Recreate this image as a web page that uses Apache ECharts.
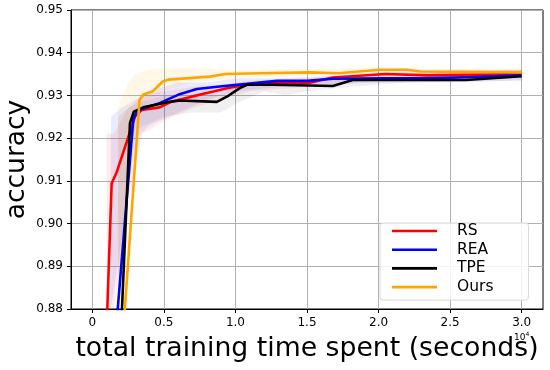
<!DOCTYPE html>
<html><head><meta charset="utf-8">
<script src="https://cdn.jsdelivr.net/npm/echarts@6/dist/echarts.min.js"></script>
<style>html,body{margin:0;padding:0;background:#fff}#c{width:550px;height:370px}</style>
</head><body><div id="c"></div>
<script>
// ---- tick labels ----
const xTicks = [0, 0.5, 1.0, 1.5, 2.0, 2.5, 3.0];
const xTickLabels = ['0', '0.5', '1.0', '1.5', '2.0', '2.5', '3.0'];
const yTicks = [0.88, 0.89, 0.90, 0.91, 0.92, 0.93, 0.94, 0.95];

// ---- series (x in units of 10^4 seconds) ----
const seriesNames = ['RS', 'REA', 'TPE', 'Ours'];
const xRS = [0.09, 0.11, 0.135, 0.17, 0.30, 0.345, 0.47, 0.55, 0.68, 0.845, 0.94, 1.08, 1.31, 1.52, 1.68, 2.05, 2.34, 3.0];
const yRS = [0.865, 0.8852, 0.9094, 0.912, 0.9252, 0.9266, 0.9272, 0.9285, 0.9296, 0.9309, 0.9317, 0.9325, 0.933, 0.933, 0.9342, 0.935, 0.9347, 0.935];
const xREA = [0.145, 0.286, 0.31, 0.345, 0.47, 0.61, 0.73, 0.89, 1.08, 1.29, 1.5, 1.68, 2.03, 2.34, 2.66, 3.0];
const yREA = [0.8667, 0.9243, 0.9262, 0.9268, 0.9282, 0.9303, 0.9315, 0.9321, 0.9327, 0.9334, 0.9334, 0.9339, 0.934, 0.934, 0.9343, 0.9347];
const xTPE = [0.19, 0.263, 0.29, 0.356, 0.54, 0.61, 0.87, 0.94, 1.03, 1.08, 1.26, 1.68, 1.82, 2.1, 2.61, 3.0];
const yTPE = [0.8666, 0.9235, 0.9262, 0.9272, 0.9285, 0.9288, 0.9285, 0.9297, 0.9317, 0.9325, 0.9325, 0.9322, 0.9336, 0.9336, 0.9336, 0.9345];
const xOurs = [0.2, 0.33, 0.36, 0.42, 0.49, 0.53, 0.82, 0.93, 1.17, 1.52, 1.72, 2.01, 2.2, 2.29, 3.0];
const yOurs = [0.867, 0.929, 0.9303, 0.9309, 0.9332, 0.9337, 0.9344, 0.935, 0.9352, 0.9354, 0.9352, 0.936, 0.936, 0.9356, 0.9354];

// ---- shaded bands (lower / upper) ----
const bxRS = [0.10, 0.15, 0.25, 0.35, 0.5, 0.7, 0.9, 1.1, 1.5, 2.0, 2.5, 3.0];
const bloRS = [0.880, 0.880, 0.905, 0.921, 0.924, 0.927, 0.929, 0.931, 0.932, 0.9335, 0.934, 0.934];
const bhiRS = [0.921, 0.921, 0.927, 0.930, 0.931, 0.932, 0.9325, 0.9335, 0.934, 0.9355, 0.936, 0.936];
const bxREA = [0.13, 0.2, 0.3, 0.4, 0.6, 0.8, 1.0, 1.3, 1.6, 2.0, 2.5, 3.0];
const bloREA = [0.880, 0.895, 0.920, 0.923, 0.926, 0.929, 0.931, 0.932, 0.9325, 0.933, 0.933, 0.9335];
const bhiREA = [0.925, 0.927, 0.929, 0.931, 0.933, 0.933, 0.934, 0.934, 0.9345, 0.935, 0.9355, 0.936];
const bxTPE = [0.18, 0.25, 0.3, 0.5, 0.7, 0.9, 1.0, 1.2, 1.35, 1.5, 1.8, 2.2, 3.0];
const bloTPE = [0.880, 0.915, 0.922, 0.925, 0.926, 0.926, 0.928, 0.931, 0.930, 0.931, 0.932, 0.933, 0.9335];
const bhiTPE = [0.925, 0.927, 0.928, 0.930, 0.930, 0.930, 0.932, 0.9335, 0.9335, 0.9335, 0.934, 0.934, 0.9355];
const bxOurs = [0.18, 0.25, 0.3, 0.4, 0.5, 0.7, 1.0, 1.5, 2.0, 2.5, 3.0];
const bloOurs = [0.880, 0.912, 0.925, 0.929, 0.931, 0.933, 0.934, 0.9345, 0.935, 0.935, 0.935];
const bhiOurs = [0.927, 0.933, 0.935, 0.936, 0.9365, 0.9365, 0.936, 0.9362, 0.9365, 0.9362, 0.9362];

const FONT = 'DejaVu Sans';
const lineColors = ['#ff0000', '#0000ff', '#000000', '#ffa500'];
const bandColors = ['rgba(255,0,0,0.08)', 'rgba(0,0,255,0.08)', 'rgba(0,0,0,0.06)', 'rgba(255,165,0,0.09)'];

const lines = [[xRS, yRS], [xREA, yREA], [xTPE, yTPE], [xOurs, yOurs]];
const bands = [[bxRS, bloRS, bhiRS], [bxREA, bloREA, bhiREA], [bxTPE, bloTPE, bhiTPE], [bxOurs, bloOurs, bhiOurs]];

function bandSeries(b, color) {
  const [bx, lo, hi] = b;
  return {
    type: 'custom', silent: true, z: 1,
    data: bx.map((v, i) => [v, lo[i], hi[i]]),
    encode: { x: 0, y: [1, 2] },
    renderItem: function (params, api) {
      if (params.dataIndex !== 0) return null;
      const pts = [];
      for (let i = 0; i < bx.length; i++) pts.push(api.coord([bx[i], hi[i]]));
      for (let i = bx.length - 1; i >= 0; i--) pts.push(api.coord([bx[i], lo[i]]));
      return { type: 'polygon', shape: { points: pts }, style: { fill: color, stroke: null } };
    }
  };
}

const series = [];
bands.forEach((b, i) => series.push(bandSeries(b, bandColors[i])));
lines.forEach((l, i) => series.push({
  name: seriesNames[i], type: 'line', z: 3 + i,
  data: l[0].map((v, j) => [v, l[1][j]]),
  showSymbol: false, symbol: 'none', clip: true,
  lineStyle: { color: lineColors[i], width: 2.6 },
  itemStyle: { color: lineColors[i] },
  animation: false
}));

const chart = echarts.init(document.getElementById('c'), null, { renderer: 'canvas' });
chart.setOption({
  animation: false,
  backgroundColor: '#ffffff',
  grid: { left: 71, right: 7, top: 10, bottom: 61, show: true, borderColor: '#000', borderWidth: 1, containLabel: false },
  xAxis: {
    type: 'value', min: -0.149, max: 3.149,
    axisLine: { show: true, onZero: false, lineStyle: { color: '#000', width: 1 } },
    axisTick: { show: true, inside: false, length: 4, customValues: xTicks, lineStyle: { color: '#000' } },
    axisLabel: { customValues: xTicks, margin: 8, color: '#000', fontFamily: FONT, fontSize: 12,
      formatter: v => { const k = xTicks.findIndex(t => Math.abs(t - v) < 1e-9); return k >= 0 ? xTickLabels[k] : ''; } },
    splitLine: { show: true, lineStyle: { color: '#b0b0b0', width: 1 } }
  },
  yAxis: {
    type: 'value', min: 0.88, max: 0.95,
    axisLine: { show: true, onZero: false, lineStyle: { color: '#000', width: 1 } },
    axisTick: { show: true, inside: false, length: 4, customValues: yTicks, lineStyle: { color: '#000' } },
    axisLabel: { customValues: yTicks, margin: 8, color: '#000', fontFamily: FONT, fontSize: 12,
      formatter: v => v.toFixed(2) },
    splitLine: { show: true, lineStyle: { color: '#b0b0b0', width: 1 } }
  },
  legend: {
    orient: 'vertical', left: 380, top: 223,
    data: seriesNames.map((n, i) => ({ name: n, icon: 'rect', itemStyle: { color: lineColors[i] } })),
    itemWidth: 45, itemHeight: 2.6, itemGap: 2.7,
    padding: [0, 35, 5, 12],
    backgroundColor: 'rgba(255,255,255,0.85)', borderColor: '#d9d9d9', borderWidth: 1, borderRadius: 3,
    textStyle: { fontFamily: FONT, fontSize: 15.5, color: '#000', lineHeight: 16, padding: [0, 0, 0, 15] },
    selectedMode: false
  },
  graphic: [
    { type: 'text', x: 17, y: 159.5, rotation: Math.PI / 2,
      style: { text: 'accuracy', font: '26.5px "DejaVu Sans"', fill: '#000', textAlign: 'center', textVerticalAlign: 'middle' } },
    { type: 'text', x: 307, y: 349,
      style: { text: 'total training time spent (seconds)', font: '26.7px "DejaVu Sans"', fill: '#000', textAlign: 'center', textVerticalAlign: 'middle' } },
    { type: 'text', x: 514, y: 337.5,
      style: { text: '10{s|4}', font: '9px "DejaVu Sans"', fill: '#000', textVerticalAlign: 'middle',
        rich: { s: { fontSize: 6, fontFamily: FONT, verticalAlign: 'top', padding: [0, 0, 6, 0] } } } }
  ],
  series: series
});
</script>
</body></html>
